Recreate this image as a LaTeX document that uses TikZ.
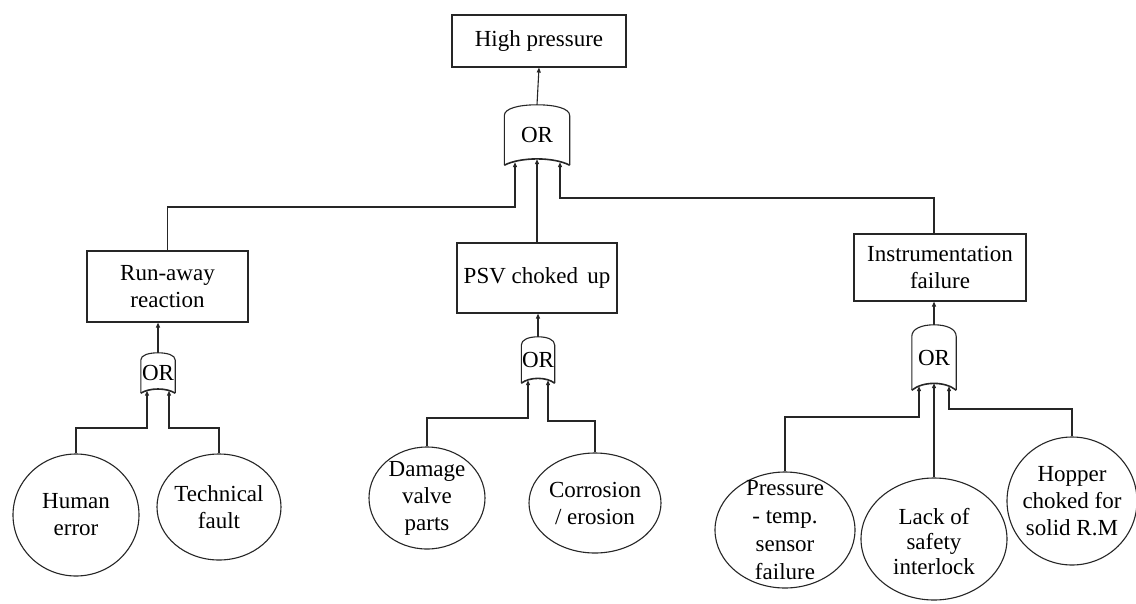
\documentclass[tikz,border=0pt]{standalone}
\usepackage{fontspec}
\IfFontExistsTF{LiberationSerif-Regular.ttf}
  {\setmainfont{LiberationSerif-Regular.ttf}}
  {\setmainfont{Liberation Serif}}
\usetikzlibrary{shapes.geometric,arrows.meta}
\newcommand\evfont{\rmfamily\fontsize{23}{27}\selectfont}
\tikzset{
  ln/.style={line width=1.1pt, draw=black!85},
  flow/.style={ln, -{Triangle[length=5pt,width=4pt]}},
  event/.style={draw=black!85, line width=1.1pt, rectangle, inner sep=0pt, align=center, font=\evfont},
  basic/.style={draw=black!85, line width=1.1pt, ellipse, inner sep=0pt},
  lbl/.style={align=center, inner sep=0pt, font=\evfont},
  gatebody/.style={rectangle, inner sep=0pt, font=\evfont},
}
% OR gate: name, centre x, top y, width, height
\newcommand\orgate[5]{%
  \node[gatebody, minimum width=#4pt, minimum height=#5pt] (#1) at (#2,#3+#5/2) {OR};
  \draw[ln] (#1.south west) -- ([yshift=-0.18*#5pt]#1.north west)
    .. controls ([yshift=-0.06*#5pt]#1.north west) and ([xshift=-0.28*#4pt]#1.north) .. (#1.north)
    .. controls ([xshift=0.28*#4pt]#1.north) and ([yshift=-0.06*#5pt]#1.north east) .. ([yshift=-0.18*#5pt]#1.north east)
    -- (#1.south east);
  \draw[ln, line width=1.6pt] (#1.south west)
    .. controls ([xshift=0.25*#4pt, yshift=0.14*#5pt]#1.south west) and ([xshift=-0.25*#4pt, yshift=0.14*#5pt]#1.south east) .. (#1.south east);
}
\begin{document}
\begin{tikzpicture}[x=1pt,y=-1pt]
\fill[white] (0,0) rectangle (1136,603);
\useasboundingbox (0,0) rectangle (1136,603);

% events
\node[event, minimum width=174pt, minimum height=52pt] (top) at (539,41) {High pressure};
\node[event, minimum width=161pt, minimum height=71pt] (run) at (167.5,286.5) {Run-away\\reaction};
\node[event, minimum width=160pt, minimum height=70pt] (psv) at (537,278) {PSV choked\hspace{0.4em}up};
\node[event, minimum width=172pt, minimum height=67pt] (ins) at (940,267.5) {Instrumentation\\failure};

% gates
\orgate{g0}{537}{105}{65}{60}
\orgate{g1}{158}{353}{34}{40}
\orgate{g2}{538}{337}{33}{46}
\orgate{g3}{934}{325}{44}{65}

% basic events
\node[basic, minimum width=126pt, minimum height=122pt] (human) at (76,515) {};
\node[lbl] (human-t) at (human) {Human\\error};
\node[basic, minimum width=124pt, minimum height=106pt] (tech) at (219,507) {};
\node[lbl] (tech-t) at (tech) {Technical\\fault};
\node[basic, minimum width=116pt, minimum height=102pt] (damage) at (427,498) {};
\node[lbl] (damage-t) at (damage) {Damage\\valve\\parts};
\node[basic, minimum width=132pt, minimum height=100pt] (corr) at (595,503) {};
\node[lbl] (corr-t) at (corr) {Corrosion\\/ erosion};
\node[basic, minimum width=140pt, minimum height=116pt] (press) at (785,530) {};
\node[lbl, font=\rmfamily\fontsize{23}{28}\selectfont] (press-t) at (press) {Pressure\\- temp.\\sensor\\failure};
\node[basic, minimum width=146pt, minimum height=122pt] (lack) at (934,539) {};
\node[lbl, font=\rmfamily\fontsize{23}{25}\selectfont] (lack-t) at ([yshift=-3pt]lack) {Lack of\\safety\\interlock};
\node[basic, minimum width=130pt, minimum height=128pt] (hopper) at (1072,501) {};
\node[lbl] (hopper-t) at (hopper) {Hopper\\choked for\\solid R.M};

% top level
\draw[flow] (g0.north) -- (top.south);
\draw[flow] (run.north) -- (run.north |- 0,207) -| ([xshift=-22pt,yshift=3pt]g0.south);
\draw[flow] (psv.north) -- ([yshift=6pt]g0.south);
\draw[flow] ([xshift=-6pt]ins.north) -- ([xshift=-6pt]ins.north |- 0,198) -| ([xshift=23pt,yshift=3pt]g0.south);

% run-away branch
\draw[flow] (g1.north) -- (g1.north |- run.south);
\draw[flow] (human.north) -- (human.north |- 0,428) -| ([xshift=-11pt,yshift=2.5pt]g1.south);
\draw[flow] (tech.north) -- (tech.north |- 0,428) -| ([xshift=11pt,yshift=2.5pt]g1.south);

% PSV branch
\draw[flow] (g2.north) -- (g2.north |- psv.south);
\draw[flow] (damage.north) -- (damage.north |- 0,418) -| ([xshift=-10pt,yshift=3pt]g2.south);
\draw[flow] (corr.north) -- (corr.north |- 0,421) -| ([xshift=10pt,yshift=3pt]g2.south);

% instrumentation branch
\draw[flow] (g3.north) -- (g3.north |- ins.south);
\draw[flow] (press.north) -- (press.north |- 0,417) -| ([xshift=-15pt,yshift=4pt]g3.south);
\draw[flow] (lack.north) -- ([yshift=7pt]g3.south);
\draw[flow] (hopper.north) -- (hopper.north |- 0,409) -| ([xshift=15pt,yshift=4pt]g3.south);
\end{tikzpicture}
\end{document}
